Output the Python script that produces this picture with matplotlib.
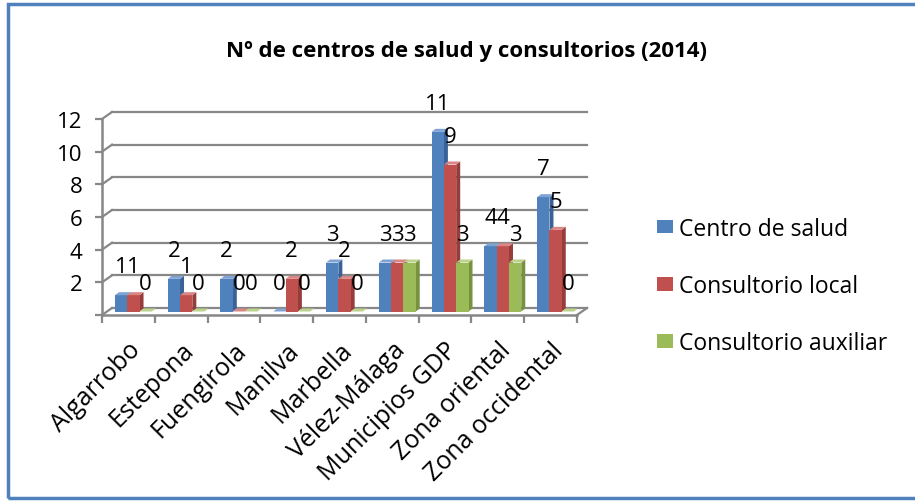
import matplotlib
matplotlib.use("Agg")
import matplotlib.pyplot as plt
from matplotlib.patches import Rectangle, Polygon, Patch
from matplotlib.lines import Line2D

plt.rcParams['font.family'] = ['Open Sans', 'DejaVu Sans']

categories = ["Algarrobo", "Estepona", "Fuengirola", "Manilva", "Marbella",
              "Vélez-Málaga", "Municipios GDP", "Zona oriental", "Zona occidental"]
series_names = ["Centro de salud", "Consultorio local", "Consultorio auxiliar"]
centro_salud = [1, 2, 2, 0, 3, 3, 11, 4, 7]
consultorio_local = [1, 1, 0, 2, 2, 3, 9, 4, 5]
consultorio_auxiliar = [0, 0, 0, 0, 0, 3, 3, 3, 0]
y_ticks = [0, 2, 4, 6, 8, 10, 12]
title = "Nº de centros de salud y consultorios (2014)"

series = [centro_salud, consultorio_local, consultorio_auxiliar]
front_colors = ["#4F81BD", "#C0504D", "#9BBB59"]
side_colors = ["#3A6296", "#963C3A", "#77923F"]
top_colors = ["#7FA4D3", "#D98684", "#BBD38A"]

W, H = 915, 502
fig = plt.figure(figsize=(W / 100, H / 100), dpi=100)

# front plane axes (pixel geometry)
left_px, right_px, bottom_px, top_px = 102, 577, 316, 120
ax = fig.add_axes([left_px / W, 1 - bottom_px / H,
                   (right_px - left_px) / W, (bottom_px - top_px) / H])
n = len(categories)
ax.set_xlim(-0.5, n - 0.5)
ax.set_ylim(0, 12)
ax.patch.set_alpha(0)

px_x = (n) / ax.bbox.width
px_y = 12 / ax.bbox.height

# back wall offset
bk_dx, bk_dy = 10 * px_x, 7 * px_y
grid_color = "#878787"
for v in y_ticks:
    ax.add_line(Line2D([-0.5 + bk_dx, n - 0.5 + bk_dx], [v + bk_dy, v + bk_dy],
                       color=grid_color, lw=1.6, zorder=1, clip_on=False))
    ax.add_line(Line2D([-0.5, -0.5 + bk_dx], [v, v + bk_dy],
                       color=grid_color, lw=1.6, zorder=1, clip_on=False))
# floor right edge
ax.add_line(Line2D([n - 0.5, n - 0.5 + bk_dx], [0, bk_dy],
                   color=grid_color, lw=1.6, zorder=1, clip_on=False))

for s in ["top", "right"]:
    ax.spines[s].set_visible(False)
for s in ["left", "bottom"]:
    ax.spines[s].set_color(grid_color)
    ax.spines[s].set_linewidth(1.8)
    ax.spines[s].set_zorder(2)

ax.set_yticks(y_ticks)
ax.set_yticklabels(["" if v == 0 else str(v) for v in y_ticks], fontsize=16)
ax.tick_params(axis="y", direction="out", length=5, width=1.6, color=grid_color, pad=9)

ax.set_xticks(range(n))
ax.set_xticklabels(categories, rotation=45, ha="right", rotation_mode="anchor", fontsize=18)
ax.set_xticks([i - 0.5 for i in range(n + 1)], minor=True)
ax.tick_params(axis="x", which="major", length=0, pad=16)
ax.tick_params(axis="x", which="minor", direction="out", length=6, width=1.6, color=grid_color)

# bars (mid plane)
bar_dx, bar_dy = 5 * px_x, 3.5 * px_y
dep_x, dep_y = 4 * px_x, 3 * px_y
bw = 0.233
z = 3
for i in range(n):
    for k, vals in enumerate(series):
        h = vals[i]
        x0 = i - 1.5 * bw + k * bw + bar_dx
        x1 = x0 + bw
        y0 = bar_dy
        y1 = bar_dy + h
        if h > 0:
            ax.add_patch(Polygon([(x1, y0), (x1 + dep_x, y0 + dep_y), (x1 + dep_x, y1 + dep_y), (x1, y1)],
                                 closed=True, facecolor=side_colors[k], edgecolor="none", zorder=z))
            ax.add_patch(Rectangle((x0, y0), bw, h, facecolor=front_colors[k], edgecolor="none", zorder=z))
        ax.add_patch(Polygon([(x0, y1), (x1, y1), (x1 + dep_x, y1 + dep_y), (x0 + dep_x, y1 + dep_y)],
                             closed=True, facecolor=top_colors[k], edgecolor="none", zorder=z))
        z += 0.01
        ax.annotate(str(h), xy=((x0 + x1) / 2, y1), xytext=(0, 20.5), textcoords="offset points",
                    ha="center", va="center", fontsize=16, color="black", zorder=20,
                    annotation_clip=False)

# legend
handles = [Patch(facecolor=c, edgecolor="none") for c in front_colors]
fig.legend(handles, series_names, loc="center left", bbox_to_anchor=(657 / W, 1 - 287 / H),
           frameon=False, fontsize=16.5, handlelength=0.7, handleheight=0.52,
           handletextpad=0.28, labelspacing=1.45, borderpad=0, borderaxespad=0)

# title
fig.text(467 / W, 1 - 51 / H, title, ha="center", va="center", fontsize=16, fontweight="bold")

# chart border
fig.add_artist(Rectangle((8 / W, 3 / H), (940 - 8) / W, (497 - 3) / H, transform=fig.transFigure,
                         fill=False, edgecolor="#4F81BD", lw=2.5, clip_on=False))

fig.savefig("out.png", dpi=100)
